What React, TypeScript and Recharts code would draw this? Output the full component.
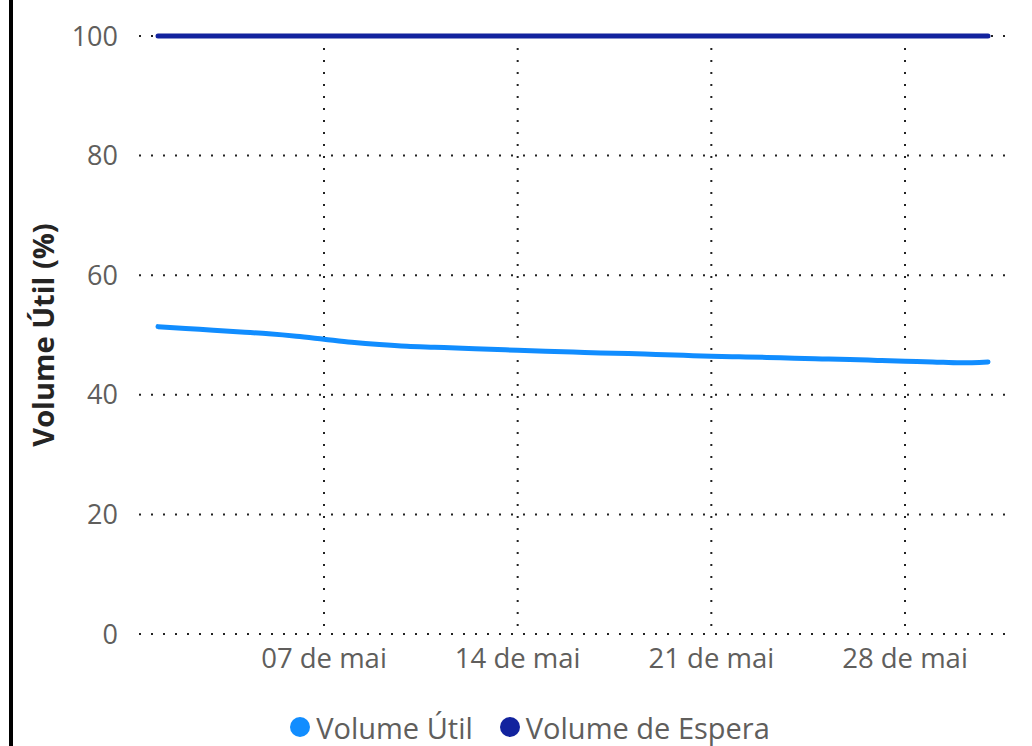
import React from "react";
import { LineChart, Line, XAxis, YAxis, CartesianGrid, Legend } from "recharts";

const days = [1, 2, 3, 4, 5, 6, 7, 8, 9, 10, 11, 12, 13, 14, 15, 16, 17, 18, 19, 20, 21, 22, 23, 24, 25, 26, 27, 28, 29, 30, 31];
const volumeUtil = [51.4, 51.1, 50.8, 50.5, 50.2, 49.8, 49.3, 48.8, 48.4, 48.1, 47.95, 47.8, 47.6, 47.45, 47.3, 47.15, 47.0, 46.9, 46.75, 46.6, 46.45, 46.35, 46.25, 46.1, 46.0, 45.9, 45.75, 45.6, 45.5, 45.35, 45.5];
const volumeEspera = [100, 100, 100, 100, 100, 100, 100, 100, 100, 100, 100, 100, 100, 100, 100, 100, 100, 100, 100, 100, 100, 100, 100, 100, 100, 100, 100, 100, 100, 100, 100];
const xTicks = [7, 14, 21, 28];
const xTickLabels = ["07 de mai", "14 de mai", "21 de mai", "28 de mai"];
const yTicks = [0, 20, 40, 60, 80, 100];

const seriesNames = ["Volume Útil", "Volume de Espera"];
const seriesColors = ["#118DFF", "#12239E"];

const data = days.map((d, i) => ({ day: d, util: volumeUtil[i], espera: volumeEspera[i] }));

const FONT = "'Segoe UI', 'Open Sans', sans-serif";
const PAD_L = 19;
const PAD_R = 17;

const YLabel = (props: any) => {
  const vb = props.viewBox || {};
  const cx = 42;
  const cy = vb.y + vb.height / 2;
  return (
    <text
      x={cx}
      y={cy}
      transform={`rotate(-90, ${cx}, ${cy})`}
      textAnchor="middle"
      dominantBaseline="central"
      fill="#252423"
      fontWeight="bold"
      fontSize={29}
      fontFamily={FONT}
    >
      Volume Útil (%)
    </text>
  );
};

const LegendContent = () => (
  <div
    style={{
      display: "flex",
      justifyContent: "center",
      alignItems: "center",
      height: 52,
      paddingLeft: 28,
      paddingTop: 14,
      boxSizing: "border-box",
      fontFamily: FONT,
      fontSize: 29,
      color: "#605E5C",
    }}
  >
    {seriesNames.map((n, i) => (
      <div key={n} style={{ display: "flex", alignItems: "center", marginRight: i === 0 ? 27 : 0 }}>
        <span
          style={{
            width: 20,
            height: 20,
            borderRadius: 10,
            background: seriesColors[i],
            display: "inline-block",
            marginRight: 6,
          }}
        />
        <span style={{ lineHeight: "29px" }}>{n}</span>
      </div>
    ))}
  </div>
);

const verticalGen = (props: any) => {
  const xAxis = props?.xAxis;
  const s = xAxis?.scale;
  if (typeof s === "function") {
    return xTicks.map((t) => s(t));
  }
  const off = props?.offset || {};
  const inner = off.width - PAD_L - PAD_R;
  return xTicks.map((t) => off.left + PAD_L + ((t - days[0]) / (days[days.length - 1] - days[0])) * inner);
};

export default function App() {
  return (
    <div style={{ position: "absolute", left: 0, top: 0, width: 1032, height: 746, background: "#fff" }}>
      <div style={{ position: "absolute", left: 9, top: 0, width: 4, height: 746, background: "#000" }} />
      <LineChart
        width={1032}
        height={746}
        data={data}
        margin={{ top: 36, right: 27, bottom: 0, left: 0 }}
      >
        <CartesianGrid
          stroke="#222"
          strokeWidth={2}
          strokeDasharray="2 10"
          verticalCoordinatesGenerator={verticalGen}
        />
        <XAxis
          dataKey="day"
          type="number"
          domain={[1, 31]}
          ticks={xTicks}
          tickFormatter={(v: number) => xTickLabels[xTicks.indexOf(v)]}
          padding={{ left: PAD_L, right: PAD_R }}
          axisLine={false}
          tickLine={false}
          tickSize={0}
          tickMargin={14}
          height={60}
          tick={{ fill: "#605E5C", fontSize: 27.5, fontFamily: FONT }}
        />
        <YAxis
          domain={[0, 100]}
          ticks={yTicks}
          width={139}
          axisLine={false}
          tickLine={false}
          tickSize={0}
          tickMargin={21}
          tick={{ fill: "#605E5C", fontSize: 27, fontFamily: FONT }}
          label={<YLabel />}
        />
        <Legend
          verticalAlign="bottom"
          height={52}
          wrapperStyle={{ left: 0, width: 1032 }}
          content={<LegendContent />}
        />
        <Line
          type="monotone"
          dataKey="util"
          name={seriesNames[0]}
          stroke={seriesColors[0]}
          strokeWidth={5}
          strokeLinecap="round"
          dot={false}
          isAnimationActive={false}
        />
        <Line
          type="monotone"
          dataKey="espera"
          name={seriesNames[1]}
          stroke={seriesColors[1]}
          strokeWidth={5}
          strokeLinecap="round"
          dot={false}
          isAnimationActive={false}
        />
      </LineChart>
    </div>
  );
}
